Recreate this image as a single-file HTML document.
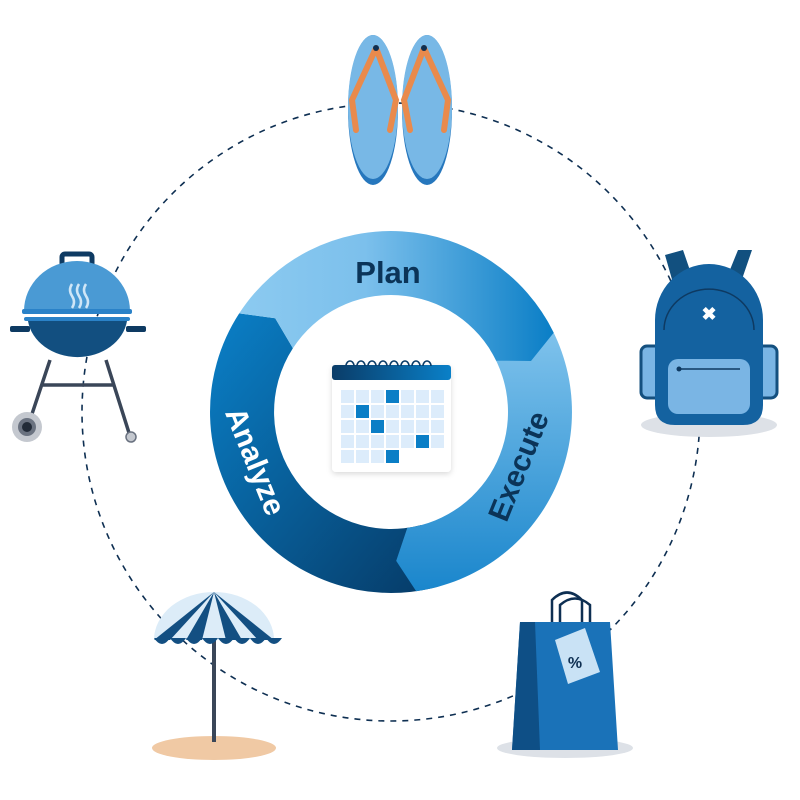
<!DOCTYPE html>
<html><head><meta charset="utf-8"><style>
html,body{margin:0;padding:0;background:#fff;width:800px;height:800px;overflow:hidden}
svg{display:block}
text{font-family:"Liberation Sans",sans-serif;font-weight:bold}
</style></head><body>
<svg id="s" width="800" height="800" viewBox="0 0 800 800">
<defs>
<linearGradient id="gp" x1="0" y1="0" x2="1" y2="0"><stop offset="0" stop-color="#8ccaf0"/><stop offset="0.4" stop-color="#7cc0ec"/><stop offset="1" stop-color="#0a7ec6"/></linearGradient>
<linearGradient id="ge" x1="0" y1="0" x2="0" y2="1"><stop offset="0" stop-color="#85c6ee"/><stop offset="1" stop-color="#1a86cc"/></linearGradient>
<linearGradient id="ga" x1="0" y1="0" x2="1" y2="1"><stop offset="0" stop-color="#0a80c8"/><stop offset="1" stop-color="#063a66"/></linearGradient>
<linearGradient id="gc" x1="0" y1="0" x2="1" y2="0"><stop offset="0" stop-color="#0a3c68"/><stop offset="1" stop-color="#0a80c8"/></linearGradient>
<filter id="sh"><feDropShadow dx="0" dy="2" stdDeviation="3" flood-opacity="0.15"/></filter>
</defs>
<circle cx="391" cy="412" r="309" fill="none" stroke="#0e2f52" stroke-width="1.6" stroke-dasharray="6 6"/>
<path id="pa" fill="url(#ga)"/>
<path id="pe" fill="url(#ge)"/>
<path id="pp" fill="url(#gp)"/>
<text x="388" y="283" font-size="31" fill="#0b3458" text-anchor="middle">Plan</text>
<text transform="translate(528,470) rotate(-68)" font-size="30" fill="#0b3458" text-anchor="middle">Execute</text>
<text transform="translate(246,465) rotate(68)" font-size="30" fill="#fff" text-anchor="middle">Analyze</text>
<!-- calendar -->
<g filter="url(#sh)"><rect x="332" y="365" width="119" height="107" rx="4" fill="#fff"/></g>
<rect x="332" y="365" width="119" height="15" rx="3" fill="url(#gc)"/>
<g fill="none" stroke="#0a3c68" stroke-width="1.6">
<path d="M346 366a4 5 0 1 1 8 0M357 366a4 5 0 1 1 8 0M368 366a4 5 0 1 1 8 0M379 366a4 5 0 1 1 8 0M390 366a4 5 0 1 1 8 0M401 366a4 5 0 1 1 8 0M412 366a4 5 0 1 1 8 0M423 366a4 5 0 1 1 8 0"/>
</g>
<g id="cal"></g>
<!-- flip flops -->
<g>
<ellipse cx="373" cy="110" rx="25" ry="75" fill="#2677bd"/>
<ellipse cx="373" cy="107" rx="25" ry="72" fill="#78b8e6"/>
<ellipse cx="427" cy="110" rx="25" ry="75" fill="#2677bd"/>
<ellipse cx="427" cy="107" rx="25" ry="72" fill="#78b8e6"/>
<path d="M376 48 L352 100 L356 130 M376 48 L396 100 L390 130" fill="none" stroke="#e98a4c" stroke-width="6" stroke-linecap="round"/>
<path d="M424 48 L404 100 L410 130 M424 48 L448 100 L444 130" fill="none" stroke="#e98a4c" stroke-width="6" stroke-linecap="round"/>
<circle cx="376" cy="48" r="3" fill="#0e2f52"/><circle cx="424" cy="48" r="3" fill="#0e2f52"/>
</g>
<!-- grill -->
<g>
<rect x="62" y="254" width="30" height="22" rx="3" fill="none" stroke="#0e3a62" stroke-width="5"/>
<path d="M24 311 A53 50 0 0 1 130 311Z" fill="#4a9ad4"/>
<rect x="22" y="309" width="110" height="5" rx="2" fill="#2a82c8"/>
<rect x="24" y="317" width="106" height="4" rx="2" fill="#2a82c8"/>
<path d="M28 321 H127 A50 42 0 0 1 28 321Z" fill="#124f80"/>
<rect x="10" y="326" width="20" height="6" rx="2" fill="#0e3a62"/>
<rect x="126" y="326" width="20" height="6" rx="2" fill="#0e3a62"/>
<path d="M50 360 L30 420 M106 360 L130 436 M42 385 H113" stroke="#3a4658" stroke-width="3.5" fill="none"/>
<circle cx="27" cy="427" r="15" fill="#c4c8cf"/><circle cx="27" cy="427" r="9" fill="#6a7280"/><circle cx="27" cy="427" r="5" fill="#222b38"/>
<circle cx="131" cy="437" r="5" fill="#c4c8cf" stroke="#6a7280" stroke-width="1.5"/>
<path d="M72 284q-4 6 0 12t0 12M79 284q-4 6 0 12t0 12M86 284q-4 6 0 12t0 12" stroke="#cfe6f7" stroke-width="2.5" fill="none"/>
</g>
<!-- backpack -->
<g>
<ellipse cx="709" cy="425" rx="68" ry="12" fill="#dde1e7"/>
<path d="M665 255 L683 250 L695 285 L675 290Z M752 250 L740 285 L725 282 L738 250Z" fill="#12507f"/>
<rect x="641" y="346" width="22" height="52" rx="6" fill="#7ab5e4" stroke="#14507f" stroke-width="3"/>
<rect x="755" y="346" width="22" height="52" rx="6" fill="#7ab5e4" stroke="#14507f" stroke-width="3"/>
<path d="M655 420 V320 A54 56 0 0 1 763 320 V405 Q763 425 743 425 H675 Q655 425 655 405Z" fill="#1462a0"/>
<path d="M664 330 A44 40 0 0 1 754 330" fill="none" stroke="#0e3a62" stroke-width="1.5"/>
<rect x="668" y="359" width="82" height="55" rx="10" fill="#7ab5e4"/>
<line x1="679" y1="369" x2="740" y2="369" stroke="#0e3a62" stroke-width="1.5"/><circle cx="679" cy="369" r="2.5" fill="#0e3a62"/>
<text x="709" y="320" font-size="18" fill="#fff" text-anchor="middle">✖</text>
</g>
<!-- umbrella -->
<g>
<ellipse cx="214" cy="748" rx="62" ry="12" fill="#f0c9a4"/>
<rect x="212" y="640" width="4" height="102" fill="#3a4658"/>
<path d="M154 640 A60 48 0 0 1 274 640Z" fill="#dcecf8"/>
<path d="M214 592 L154 640 H170Z M214 592 L186 640 H202Z M214 592 L226 640 H242Z M214 592 L258 640 H274Z" fill="#134f82"/>
<path d="M154 638 q8 12 16 0 q8 12 16 0 q8 12 16 0 q8 12 16 0 q8 12 16 0 q8 12 16 0 q8 12 16 0 q8 12 16 0" fill="#134f82"/>
</g>
<!-- bag -->
<g>
<ellipse cx="565" cy="748" rx="68" ry="10" fill="#dde1e7"/>
<path d="M552 625 V600 Q567 585 582 600 V625 M560 625 V605 Q575 592 590 605 V625" fill="none" stroke="#0e2f52" stroke-width="2.5"/>
<path d="M520 622 L610 622 L618 750 L512 750Z" fill="#1a72b8"/>
<path d="M520 622 L535 622 L540 750 L512 750Z" fill="#0e4f86"/>
<path d="M555 640 L585 628 L600 672 L568 684Z" fill="#c9e2f5"/>
<text x="575" y="668" font-size="16" fill="#0e2f52" text-anchor="middle">%</text>
</g>
</svg>
<script>
var cx=391,cy=412,R=181,r=117;
function P(a,rad){a=a*Math.PI/180;return (cx+rad*Math.cos(a)).toFixed(1)+' '+(cy+rad*Math.sin(a)).toFixed(1);}
function sec(a0,a1,tip){var mid=(R+r)/2;var d='M'+P(a0,R)+' A'+R+' '+R+' 0 '+((a1-a0)>180?1:0)+' 1 '+P(a1,R)+' L'+P(a1+tip,mid)+' L'+P(a1,r)+' A'+r+' '+r+' 0 '+((a1-a0)>180?1:0)+' 0 '+P(a0,r)+' L'+P(a0+tip,mid)+'Z';return d;}
document.getElementById('pa').setAttribute('d',sec(75,213,6));
document.getElementById('pe').setAttribute('d',sec(-32,82,6));
document.getElementById('pp').setAttribute('d',sec(-147,-26,6));
var g=document.getElementById('cal'),h='';
var dark={'0,3':1,'1,1':1,'2,2':1,'3,5':1,'4,3':1};
for(var i=0;i<5;i++)for(var j=0;j<7;j++){if(i==4&&j>3)continue;
h+='<rect x="'+(341+j*15)+'" y="'+(390+i*15)+'" width="13" height="13" fill="'+(dark[i+','+j]?'#0a7ec6':'#dcecfb')+'"/>';}
g.innerHTML=h;
</script>
</body></html>
